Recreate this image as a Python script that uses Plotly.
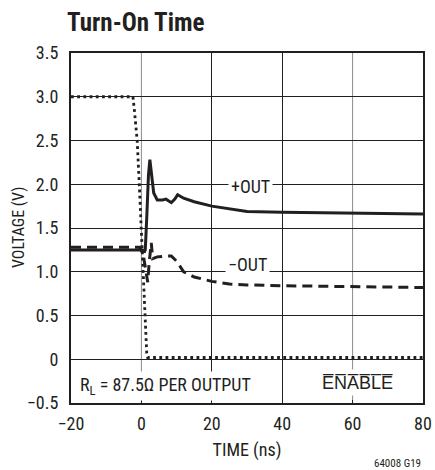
import plotly.graph_objects as go

# ENABLE (dotted)
en_t = [-20, -2.4, -2.0, -1.5, -1.2, -0.6, 0.0, 0.4, 0.9, 1.2, 1.5, 1.8, 80]
en_v = [3.0, 3.0, 2.85, 2.65, 2.5, 2.0, 1.4, 1.0, 0.5, 0.25, 0.08, 0.02, 0.02]

# +OUT (solid)
pos_t = [-20, 0.3, 0.8, 1.1, 1.5, 2.0, 2.4, 2.9, 3.5, 4.5, 6.0, 7.0, 8.5, 9.5, 10.3, 12, 15, 20, 26, 30, 40, 60, 80]
pos_v = [1.25, 1.25, 1.22, 1.25, 1.6, 2.1, 2.28, 2.1, 1.9, 1.82, 1.82, 1.83, 1.79, 1.83, 1.88, 1.84, 1.80, 1.75, 1.71, 1.69, 1.68, 1.67, 1.66]

# -OUT (dashed)
neg_t = [-20, -0.5, 0.5, 1.2, 1.8, 2.2, 2.8, 3.2, 4.5, 7, 8.5, 10, 12, 15, 20, 25, 30, 40, 60, 80]
neg_v = [1.28, 1.28, 1.2, 1.05, 0.88, 1.1, 1.33, 1.15, 1.17, 1.18, 1.18, 1.12, 1.0, 0.94, 0.89, 0.86, 0.85, 0.84, 0.83, 0.82]

x_ticks = [-20, 0, 20, 40, 60, 80]
x_labels = ["\u221220", "0", "20", "40", "60", "80"]
y_ticks = [-0.5, 0, 0.5, 1.0, 1.5, 2.0, 2.5, 3.0, 3.5]
y_labels = ["\u22120.5", "0", "0.5", "1.0", "1.5", "2.0", "2.5", "3.0", "3.5"]
black_grid = [20, 40]
gray_grid = [0, 60]

FONT = "Roboto Condensed, Liberation Sans Narrow, sans-serif"
INK = "#231f20"

fig = go.Figure()
fig.add_trace(go.Scatter(x=en_t, y=en_v, mode="lines",
                         line=dict(color=INK, width=2.8, dash="2.8px,3.4px"),
                         hoverinfo="skip"))
fig.add_trace(go.Scatter(x=neg_t, y=neg_v, mode="lines",
                         line=dict(color=INK, width=3, dash="10px,6px"),
                         hoverinfo="skip"))
fig.add_trace(go.Scatter(x=pos_t, y=pos_v, mode="lines",
                         line=dict(color=INK, width=3),
                         hoverinfo="skip"))

for gx in gray_grid:
    fig.add_shape(type="line", xref="x", yref="paper", x0=gx, x1=gx, y0=0, y1=1,
                  line=dict(color="#8a8a8a", width=1), layer="below")

annots = [
    dict(x=31, y=1.97, text="+OUT", xanchor="center"),
    dict(x=30, y=1.08, text="\u2212OUT", xanchor="center"),
    dict(x=-18.2, y=-0.31, text="R<sub>L</sub> = 87.5\u03a9 PER OUTPUT", xanchor="left"),
    dict(x=61.4, y=-0.26, text="E\u0305N\u0305A\u0305B\u0305L\u0305E\u0305", xanchor="center"),
]
for a in annots:
    fig.add_annotation(x=a["x"], y=a["y"], xref="x", yref="y", text=a["text"],
                       xanchor=a["xanchor"], showarrow=False, bgcolor="white", borderpad=2,
                       font=dict(family=FONT, size=18, color=INK))

fig.add_annotation(x=-0.018, y=1.0, xref="paper", yref="paper", text="Turn-On Time",
                   showarrow=False, xanchor="left", yanchor="middle", yshift=31,
                   font=dict(family=FONT, size=25, color=INK, weight="bold"))
fig.add_annotation(x=0, y=0.5, xref="paper", yref="paper", text="VOLTAGE (V)",
                   showarrow=False, textangle=-90, xanchor="center", yanchor="middle",
                   xshift=-53, font=dict(family=FONT, size=16, color=INK))
fig.add_annotation(x=1.0, y=0, xref="paper", yref="paper", text="64008 G19",
                   showarrow=False, xanchor="right", yanchor="top", yshift=-52,
                   font=dict(family=FONT, size=11, color=INK))

fig.update_layout(
    width=435, height=470,
    margin=dict(l=71, r=12, t=53, b=67),
    paper_bgcolor="white", plot_bgcolor="white",
    showlegend=False,
    font=dict(family=FONT, size=18, color=INK),
    xaxis=dict(range=[-20, 80], tickvals=x_ticks, ticktext=x_labels,
               showgrid=False, automargin=False,
               minor=dict(tickvals=black_grid, showgrid=True, gridcolor=INK, gridwidth=1),
               showline=True, linecolor=INK, linewidth=2, mirror=True,
               ticks="inside", ticklen=3, tickcolor=INK, ticklabelstandoff=3,
               zeroline=False,
               title=dict(text="TIME (ns)", standoff=11, font=dict(size=18)),
               tickfont=dict(size=18)),
    yaxis=dict(range=[-0.5, 3.5], tickvals=y_ticks, ticktext=y_labels,
               showgrid=True, gridcolor=INK, gridwidth=1, automargin=False,
               showline=True, linecolor=INK, linewidth=2, mirror=True,
               ticks="", zeroline=False, ticklabelstandoff=7,
               tickfont=dict(size=18)),
)
fig.write_html("out.html", config={"displayModeBar": False},
               post_script="document.body.style.margin='0px';document.body.style.overflow='hidden';")
